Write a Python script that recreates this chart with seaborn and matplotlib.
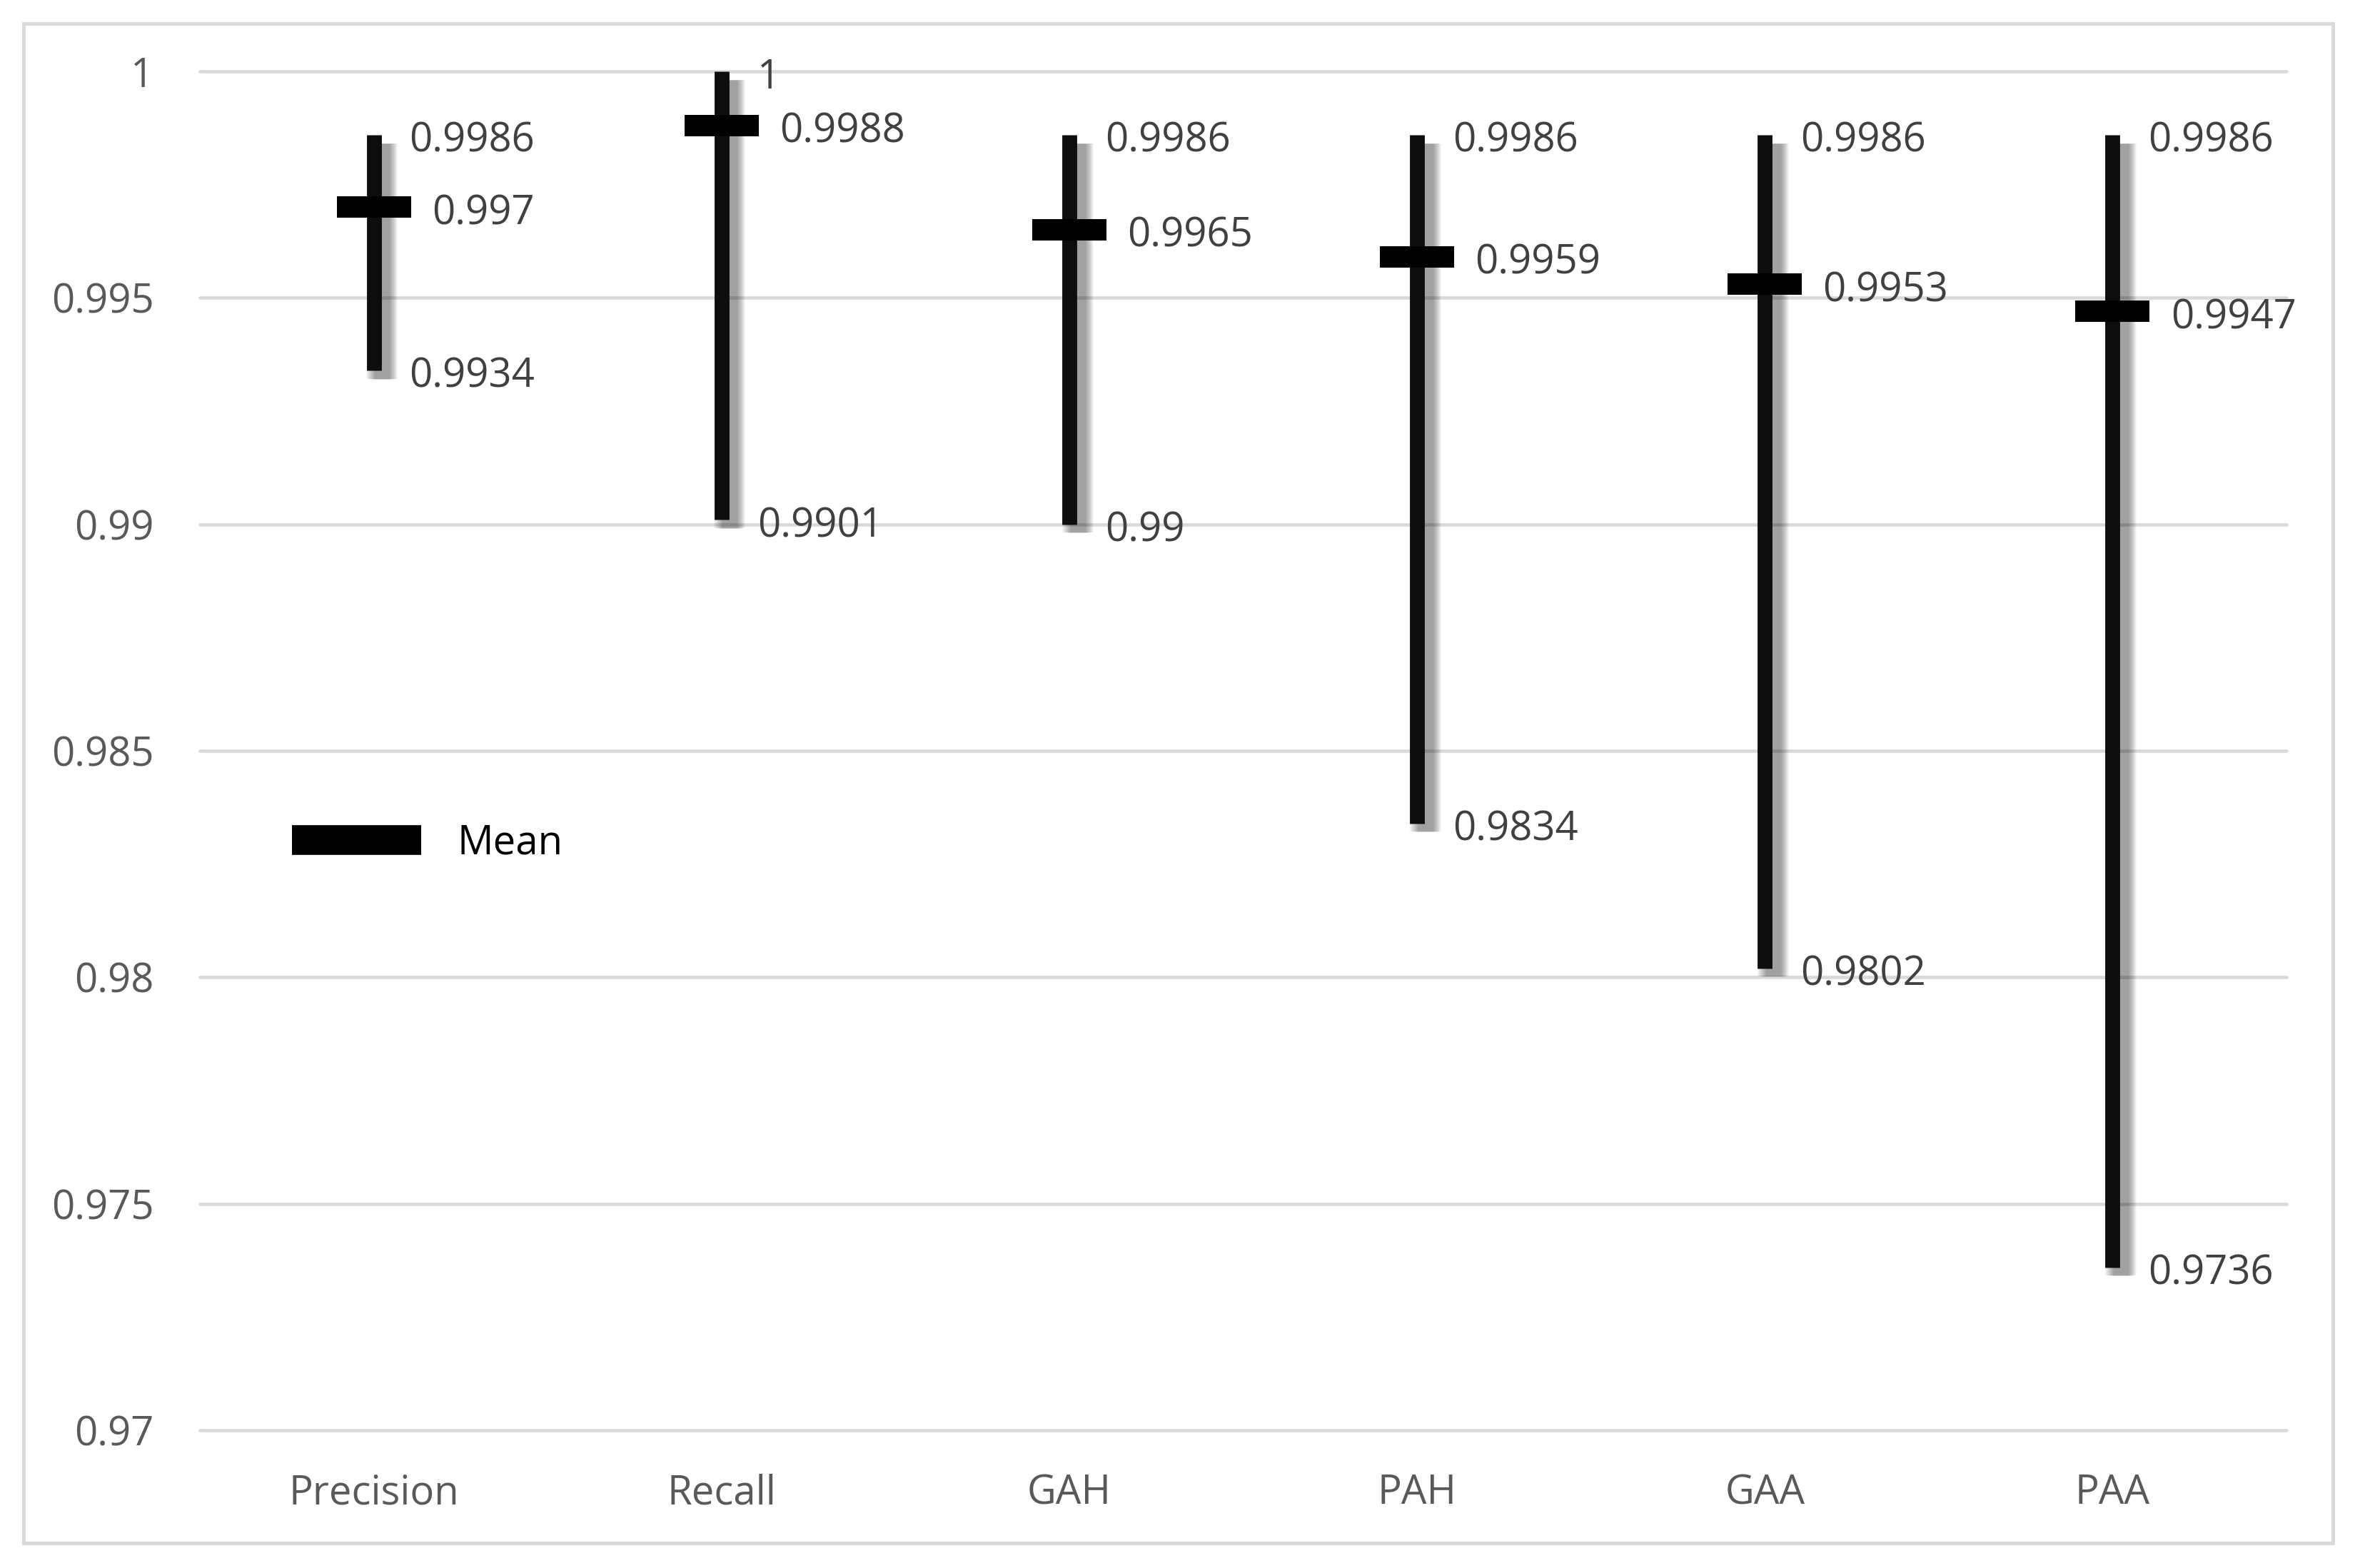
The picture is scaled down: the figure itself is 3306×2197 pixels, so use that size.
import numpy as np
import pandas as pd
import matplotlib
matplotlib.use("Agg")
import matplotlib.pyplot as plt
import seaborn as sns
from matplotlib import patheffects as pe
from matplotlib.lines import Line2D
from matplotlib.patches import Rectangle

# ---------------- data ----------------
metrics = ["Precision", "Recall", "GAH", "PAH", "GAA", "PAA"]
high = [0.9986, 1.0, 0.9986, 0.9986, 0.9986, 0.9986]
low = [0.9934, 0.9901, 0.9900, 0.9834, 0.9802, 0.9736]
mean = [0.9970, 0.9988, 0.9965, 0.9959, 0.9953, 0.9947]
high_labels = ["0.9986", "1", "0.9986", "0.9986", "0.9986", "0.9986"]
low_labels = ["0.9934", "0.9901", "0.99", "0.9834", "0.9802", "0.9736"]
mean_labels = ["0.997", "0.9988", "0.9965", "0.9959", "0.9953", "0.9947"]
y_ticks = [0.97, 0.975, 0.98, 0.985, 0.99, 0.995, 1.0]
y_tick_labels = ["0.97", "0.975", "0.98", "0.985", "0.99", "0.995", "1"]
legend_label = "Mean"

# ---------------- style ----------------
sns.set_theme(style="white")
plt.rcParams["font.family"] = ["Open Sans", "DejaVu Sans"]

W, H = 3306, 2197
DPI = 300
fig = plt.figure(figsize=(W / DPI, H / DPI), dpi=DPI)
fig.patch.set_facecolor("white")
ax = fig.add_axes([280 / W, (H - 2004) / H, (3203 - 280) / W, (2004 - 100) / H])

FS = 13.5
LABEL_C = "#404040"
TICK_C = "#595959"

# range lines (low-high)
rng = pd.DataFrame({"metric": metrics + metrics, "value": high + low})
sns.lineplot(data=rng, x="metric", y="value", units="metric", estimator=None,
             sort=False, color="#0D0D0D", linewidth=5.0, ax=ax, legend=False)
shadow = []
for w in np.arange(10.5, 4.9, -0.5):
    shadow.append(pe.SimpleLineShadow(offset=(2.8, -2.8), shadow_color="black",
                                      alpha=0.035, linewidth=float(w)))
shadow.append(pe.Normal())
for ln in ax.lines:
    ln.set_solid_capstyle("butt")
    ln.set_path_effects(shadow)
    ln.set_clip_on(False)

# mean markers
mdf = pd.DataFrame({"metric": metrics, "mean": mean})
sns.scatterplot(data=mdf, x="metric", y="mean", marker="_", s=620,
                linewidth=7.2, color="black", ax=ax, legend=False, zorder=5,
                clip_on=False)

# data labels
for i in range(len(metrics)):
    ax.annotate(high_labels[i], (i, high[i]), xytext=(12, -5.7),
                textcoords="offset points", ha="left", va="baseline",
                fontsize=FS, color=LABEL_C, annotation_clip=False)
    ax.annotate(low_labels[i], (i, low[i]), xytext=(12, -5.7),
                textcoords="offset points", ha="left", va="baseline",
                fontsize=FS, color=LABEL_C, annotation_clip=False)
    ax.annotate(mean_labels[i], (i, mean[i]), xytext=(19.5, -5.7),
                textcoords="offset points", ha="left", va="baseline",
                fontsize=FS, color=LABEL_C, annotation_clip=False)

# axes
ax.set_xlim(-0.5, len(metrics) - 0.5)
ax.set_ylim(0.97, 1.0)
ax.set_yticks(y_ticks)
ax.set_yticklabels(y_tick_labels)
ax.set_xlabel("")
ax.set_ylabel("")
ax.tick_params(axis="y", length=0, pad=15.5, labelsize=FS, labelcolor=TICK_C)
ax.tick_params(axis="x", length=0, pad=14.5, labelsize=FS, labelcolor=TICK_C)
for s in ax.spines.values():
    s.set_visible(False)
ax.yaxis.grid(True, color="#D9D9D9", linewidth=1.1)
ax.xaxis.grid(False)
ax.set_axisbelow(True)
for gl in ax.get_ygridlines():
    gl.set_clip_on(False)

# legend
handle = Line2D([0], [0], color="black", linewidth=10, solid_capstyle="butt")
ax.legend([handle], [legend_label], loc="center left",
          bbox_to_anchor=((409 - 280) / (3203 - 280), (2004 - 1182) / (2004 - 100)),
          frameon=False, fontsize=FS, handlelength=3.22, handletextpad=0.9,
          borderpad=0, borderaxespad=0, labelcolor="black")

# chart border
fig.add_artist(Rectangle((33 / W, (H - 2162) / H), (3268 - 33) / W, (2162 - 33) / H,
                         transform=fig.transFigure, fill=False,
                         edgecolor="#D9D9D9", linewidth=1.2))

fig.savefig("out.png", dpi=DPI, facecolor="white")
